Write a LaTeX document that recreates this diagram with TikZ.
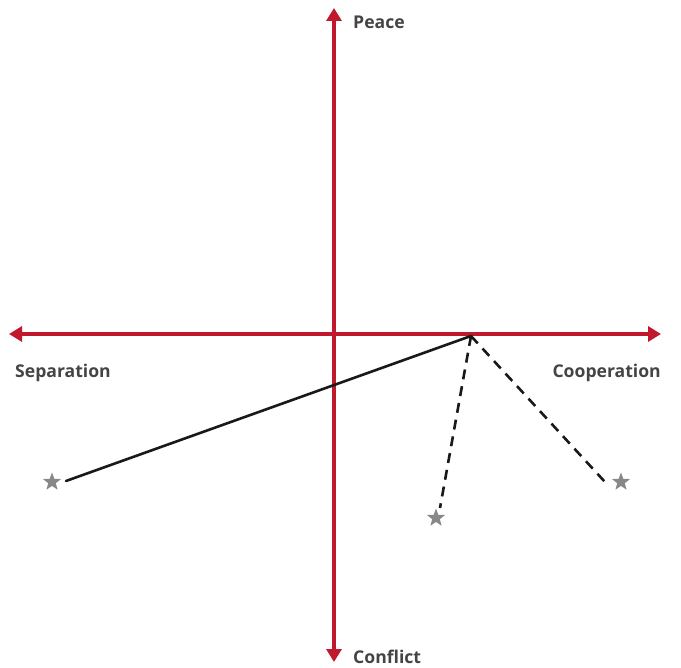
\documentclass[tikz,border=0pt]{standalone}
\usepackage{fontspec}
\setmainfont{Open Sans}
\usetikzlibrary{arrows.meta,shapes.geometric}
\definecolor{axisred}{HTML}{C0192E}
\definecolor{labelgray}{HTML}{444444}
\definecolor{stargray}{HTML}{888888}
\tikzset{
  axis/.style={draw=axisred,line width=3.5pt,-{Triangle[length=13pt,width=15pt]}},
  lbl/.style={font=\bfseries\fontsize{17.6}{20}\selectfont,text=labelgray,inner sep=0pt},
  starmark/.style={star,star points=5,star point ratio=2.4,fill=stargray,draw=none,minimum size=19pt,inner sep=0pt},
  path/.style={line width=2.6pt,draw=black!90},
  dpath/.style={path,dash pattern=on 10pt off 7pt}
}
\begin{document}
\begin{tikzpicture}[x=1pt,y=-1pt]
\useasboundingbox (0,0) rectangle (681,668);
\coordinate (c) at (334,334);
\coordinate (top) at (334,8);
\coordinate (bot) at (334,662);
\coordinate (left) at (9,334);
\coordinate (right) at (661,334);
\draw[axis] (c) -- (top);
\draw[axis] (c) -- (bot);
\draw[axis] (c) -- (left);
\draw[axis] (c) -- (right);
\node[lbl,anchor=west] (peace) at (353,22) {Peace};
\node[lbl,anchor=west] (conflict) at (353,657) {Conflict};
\node[lbl,anchor=west] (sep) at (15,373) {Separation};
\node[lbl,anchor=east] (coop) at (661,373) {Cooperation};
\coordinate (o) at (471,336);
\node[starmark] (s1) at (52,482) {};
\node[starmark] (s2) at (436,518) {};
\node[starmark] (s3) at (621,482) {};
\coordinate (e1) at (66,481);
\coordinate (e2) at (440,508);
\coordinate (e3) at (605,482);
\draw[path,line cap=round] (e1) -- (o);
\draw[dpath] (o) -- (e2);
\draw[dpath] (o) -- (e3);
\end{tikzpicture}
\end{document}
